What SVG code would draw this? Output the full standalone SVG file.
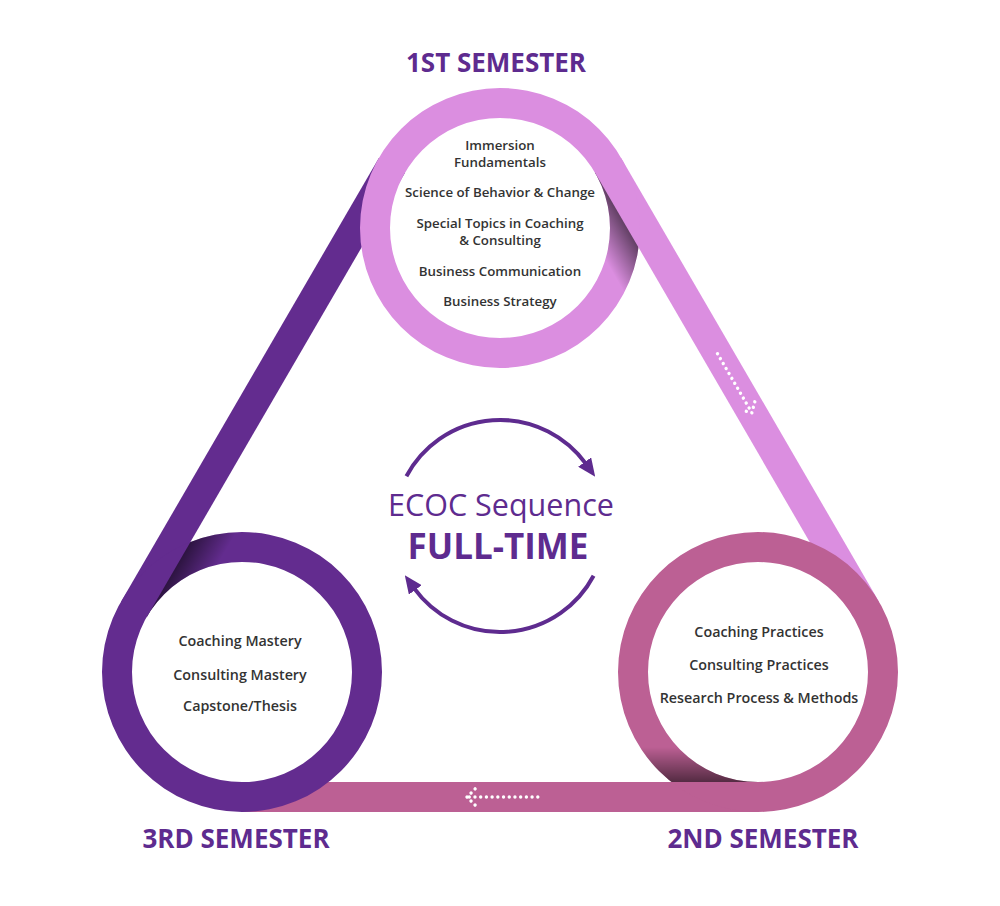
<svg xmlns="http://www.w3.org/2000/svg" width="1000" height="906" viewBox="0 0 1000 906">
<style>
.sem{font-family:"Open Sans","Liberation Sans",sans-serif;font-weight:700;font-size:26px;fill:#5e2b8f;text-anchor:middle}
.item{font-family:"Open Sans","Liberation Sans",sans-serif;font-weight:600;font-size:13.3px;fill:#333333;text-anchor:middle}
.item2{font-family:"Open Sans","Liberation Sans",sans-serif;font-weight:600;font-size:14.3px;fill:#333333;text-anchor:middle}
.title{font-family:"Open Sans","Liberation Sans",sans-serif;fill:#5e2b8f;text-anchor:middle}
.lav{fill:#db8ee0}
.mauve{fill:#bc6094}
.purple{fill:#632c8f}
.dots{fill:none;stroke:#ffffff;stroke-width:3.4;stroke-linecap:round;stroke-linejoin:round;stroke-dasharray:0.01 5.7}
.cyc{fill:none;stroke:#5e2b8f;stroke-width:4}
</style>
<defs>
<marker id="ah" viewBox="0 0 18 16" refX="2" refY="8" markerWidth="18" markerHeight="16" markerUnits="userSpaceOnUse" orient="auto">
<path d="M0,0 L18,8 L0,16 Z" fill="#5e2b8f"/>
</marker>
<clipPath id="cA"><path clip-rule="evenodd" d="M640,228 A140,140 0 1 0 360,228 A140,140 0 1 0 640,228 Z M610,228 A110,110 0 1 0 390,228 A110,110 0 1 0 610,228 Z"/></clipPath>
<clipPath id="cB"><path clip-rule="evenodd" d="M898,672 A140,140 0 1 0 618,672 A140,140 0 1 0 898,672 Z M868,672 A110,110 0 1 0 648,672 A110,110 0 1 0 868,672 Z"/></clipPath>
<clipPath id="cC"><path clip-rule="evenodd" d="M382,672 A140,140 0 1 0 102,672 A140,140 0 1 0 382,672 Z M352,672 A110,110 0 1 0 132,672 A110,110 0 1 0 352,672 Z"/></clipPath>
<linearGradient id="gA" gradientUnits="userSpaceOnUse" x1="595.1" y1="172.7" x2="564.8" y2="190.3">
<stop offset="0" stop-color="#000" stop-opacity="0.55"/><stop offset="1" stop-color="#000" stop-opacity="0"/>
</linearGradient>
<linearGradient id="gB" gradientUnits="userSpaceOnUse" x1="0" y1="782" x2="0" y2="747">
<stop offset="0" stop-color="#000" stop-opacity="0.55"/><stop offset="1" stop-color="#000" stop-opacity="0"/>
</linearGradient>
<linearGradient id="gC" gradientUnits="userSpaceOnUse" x1="147" y1="616.7" x2="177.3" y2="634.3">
<stop offset="0" stop-color="#000" stop-opacity="0.55"/><stop offset="1" stop-color="#000" stop-opacity="0"/>
</linearGradient>
</defs>
<rect width="1000" height="906" fill="#ffffff"/>

<g id="connectors">
<polygon id="band-3-1" class="purple" points="379,157.7 405,172.7 147,616.7 121,601.7"/>
<polygon id="band-1-2" class="lav" points="621,157.7 595.1,172.7 853.1,616.7 879,601.7"/>
<rect id="band-2-3" class="mauve" x="242" y="782" width="516" height="30"/>
<path class="dots" d="M717.5,353.7 L751.9,412.8"/>
<path class="dots" d="M754.8,401.8 L751.9,412.8 L740.9,409.9"/>
<path class="dots" d="M537.8,797 L467,797"/>
<path class="dots" d="M475.1,788.9 L467,797 L475.1,805.1"/>
<path class="cyc" marker-end="url(#ah)" d="M406.4,476.2 A106,106 0 0 1 585.8,463.7"/>
<path class="cyc" marker-end="url(#ah)" d="M593.6,575.8 A106,106 0 0 1 414.2,588.3"/>
</g>

<g id="center-title">
<text class="title" x="501" y="516" font-size="30.5">ECOC Sequence</text>
<text class="title" x="498" y="559" font-size="35" font-weight="700">FULL-TIME</text>
</g>

<g id="node-sem1">
<path class="lav" fill-rule="evenodd" d="M640,228 A140,140 0 1 0 360,228 A140,140 0 1 0 640,228 Z M610,228 A110,110 0 1 0 390,228 A110,110 0 1 0 610,228 Z"/>
<polygon clip-path="url(#cA)" fill="url(#gA)" points="595.1,172.7 655.4,276.5 625.1,294.1 564.8,190.3"/>
<text class="sem" x="496" y="71.5">1ST SEMESTER</text>
<text class="item" x="500" y="149.5">Immersion</text>
<text class="item" x="500" y="167">Fundamentals</text>
<text class="item" x="500" y="197">Science of Behavior &amp; Change</text>
<text class="item" x="500" y="228">Special Topics in Coaching</text>
<text class="item" x="500" y="245">&amp; Consulting</text>
<text class="item" x="500" y="275.5">Business Communication</text>
<text class="item" x="500" y="306">Business Strategy</text>
</g>

<g id="node-sem2">
<path class="mauve" fill-rule="evenodd" d="M898,672 A140,140 0 1 0 618,672 A140,140 0 1 0 898,672 Z M868,672 A110,110 0 1 0 648,672 A110,110 0 1 0 868,672 Z"/>
<rect clip-path="url(#cB)" fill="url(#gB)" x="640" y="747" width="118" height="35"/>
<text class="sem" x="763" y="848">2ND SEMESTER</text>
<text class="item2" x="759" y="637">Coaching Practices</text>
<text class="item2" x="759" y="670">Consulting Practices</text>
<text class="item2" x="759" y="702.5">Research Process &amp; Methods</text>
</g>

<g id="node-sem3">
<path class="purple" fill-rule="evenodd" d="M382,672 A140,140 0 1 0 102,672 A140,140 0 1 0 382,672 Z M352,672 A110,110 0 1 0 132,672 A110,110 0 1 0 352,672 Z"/>
<polygon clip-path="url(#cC)" fill="url(#gC)" points="147,616.7 207.3,513 237.6,530.6 177.3,634.3"/>
<text class="sem" x="236" y="848">3RD SEMESTER</text>
<text class="item2" x="240" y="646">Coaching Mastery</text>
<text class="item2" x="240" y="679.5">Consulting Mastery</text>
<text class="item2" x="240" y="711">Capstone/Thesis</text>
</g>
</svg>
